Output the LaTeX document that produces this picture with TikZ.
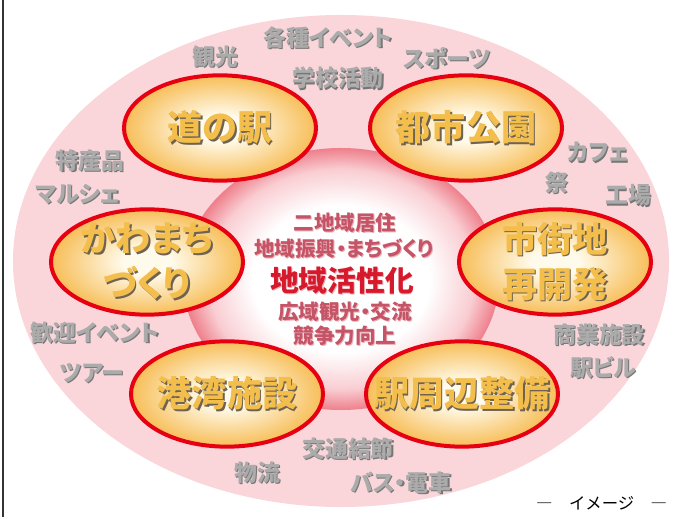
\documentclass[tikz,border=0pt]{standalone}
\usepackage{fontspec}
\usetikzlibrary{shapes.geometric}
\newfontfamily\jpfont[RawFeature=+palt]{Noto Sans CJK JP}
\newfontfamily\jpplain{Noto Sans CJK JP}
\definecolor{ringpink}{HTML}{FAD5D9}
\definecolor{hubrim}{HTML}{EE7F8B}
\definecolor{hubmid}{HTML}{F9CDD2}
\definecolor{spotcore}{HTML}{FFFBEC}
\definecolor{spotrim}{HTML}{F7BE58}
\definecolor{spotborder}{HTML}{E60012}
\definecolor{goldtone}{HTML}{F3BE4C}
\definecolor{goldshade}{HTML}{6E6252}
\definecolor{graytone}{HTML}{ABABAB}
\definecolor{grayshade}{HTML}{767676}
\definecolor{rosetone}{HTML}{C65467}
\definecolor{roseshade}{HTML}{E8B0B8}
\definecolor{keyred}{HTML}{D7192C}
\pgfdeclareradialshading{hubfill}{\pgfpoint{0bp}{0bp}}{color(0bp)=(white); color(14bp)=(white); color(21bp)=(hubmid); color(25bp)=(hubrim); color(50bp)=(hubrim)}
\pgfdeclareradialshading{spotfill}{\pgfpoint{0bp}{0bp}}{color(0bp)=(spotcore); color(6bp)=(spotcore); color(25bp)=(spotrim); color(50bp)=(spotrim)}
\newcommand\shadowword[4]{\leavevmode\rlap{\kern#4\raisebox{-#4}{\color{#3}#1}}{\color{#2}#1}}
\newcommand\goldword[1]{\shadowword{#1}{goldtone}{goldshade}{1.3pt}}
\newcommand\grayword[1]{\shadowword{#1}{graytone}{grayshade}{1.1pt}}
\newcommand\roseword[1]{\shadowword{#1}{rosetone}{roseshade}{0.8pt}}
\newcommand\keyword[1]{\shadowword{#1}{keyred}{roseshade}{0.8pt}}
\begin{document}
\begin{tikzpicture}
      [
      x=0.03cm, y=-0.03cm,
      spot/.style={ellipse,draw=spotborder,line width=1.2mm,shade,shading=spotfill,minimum width=5.76cm,minimum height=3.16cm,inner sep=0pt},
      spottext/.style={font=\jpfont\bfseries\fontsize{30}{38.4}\selectfont,align=center,inner sep=0pt},
      tag/.style={font=\jpfont\bfseries\fontsize{19.5}{22}\selectfont,inner sep=0pt},
      hubline/.style={font=\jpfont\bfseries\fontsize{17.5}{20}\selectfont,inner sep=0pt},
      hubkey/.style={font=\jpfont\bfseries\fontsize{24.5}{28}\selectfont,inner sep=0pt}
      ]
      \useasboundingbox (0,0) rectangle (675,517);
      \draw [line width=0.6mm, black!80] (3,0) -- (3,517);
      \fill [ringpink] (341,261) ellipse [x radius=9.84cm, y radius=7.38cm];
      \shade [shading=hubfill] (341,279) ellipse [x radius=4.74cm, y radius=3.93cm];

      \node (michinoeki) at (220,128) [spot,label={[spottext]center:{\goldword{道の駅}}}] {};
      \node (toshikoen) at (466,128) [spot,label={[spottext]center:{\goldword{都市公園}}}] {};
      \node (kawamachi) at (147,262) [spot,label={[spottext]center:{\goldword{かわまち}\\\goldword{づくり}}}] {};
      \node (shigaichi) at (555,262) [spot,label={[spottext]center:{\goldword{市街地}\\\goldword{再開発}}}] {};
      \node (kowan) at (227,394) [spot,label={[spottext]center:{\goldword{港湾施設}}}] {};
      \node (ekishuhen) at (462,394) [spot,label={[spottext]center:{\goldword{駅周辺整備}}}] {};

      \node (nichiiki) at (345,223) [hubline] {\roseword{二地域居住}};
      \node (shinko) at (344,249) [hubline] {\roseword{地域振興・まちづくり}};
      \node (kasseika) at (342,281) [hubkey] {\keyword{地域活性化}};
      \node (koiki) at (345,312) [hubline] {\roseword{広域観光・交流}};
      \node (kyoso) at (345,336) [hubline] {\roseword{競争力向上}};

      \node (kanko) at (215,57) [tag] {\grayword{観光}};
      \node (kakushu) at (328,38) [tag] {\grayword{各種イベント}};
      \node (gakko) at (338,79) [tag] {\grayword{学校活動}};
      \node (sports) at (447,59) [tag] {\grayword{スポーツ}};
      \node (tokusan) at (90,161) [tag] {\grayword{特産品}};
      \node (marche) at (78,195) [tag] {\grayword{マルシェ}};
      \node (cafe) at (598,153) [tag] {\grayword{カフェ}};
      \node (matsuri) at (557,183) [tag] {\grayword{祭}};
      \node (kojo) at (628,196) [tag] {\grayword{工場}};
      \node (kangei) at (95,333) [tag] {\grayword{歓迎イベント}};
      \node (tour) at (92,374) [tag] {\grayword{ツアー}};
      \node (shogyo) at (599,335) [tag] {\grayword{商業施設}};
      \node (ekibiru) at (603,368) [tag] {\grayword{駅ビル}};
      \node (kotsu) at (348,449) [tag] {\grayword{交通結節}};
      \node (butsuryu) at (257,473) [tag] {\grayword{物流}};
      \node (bus) at (401,483) [tag] {\grayword{バス・電車}};

      \node (imagelabel) at (536,503) [anchor=west,inner sep=0pt,font=\jpplain\fontsize{14}{16}\selectfont] {―　イメージ　―};
    \end{tikzpicture}
\end{document}
